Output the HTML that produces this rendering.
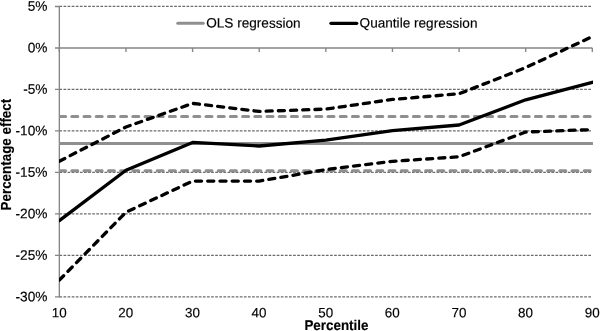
<!DOCTYPE html>
<html><head><meta charset="utf-8">
<style>
html,body{margin:0;padding:0;background:#fff;}
svg{display:block;filter:blur(0.35px);}
text{font-family:"Liberation Sans",sans-serif;font-size:13.4px;fill:#000;stroke:#000;stroke-width:0.15px;}
.b{font-weight:bold;font-size:14.1px;}
.y text{font-size:13.7px;}
</style></head><body>
<svg width="600" height="331" viewBox="0 0 600 331">
<rect width="600" height="331" fill="#fff"/>
<!-- gridlines -->
<g stroke="#6c6c6c" stroke-width="1.2" stroke-dasharray="2.7 1.4" fill="none">
<path d="M59.4 6.46H592.4"/>
<path d="M59.4 89.44H592.4"/>
<path d="M59.4 130.93H592.4"/>
<path d="M59.4 172.42H592.4"/>
<path d="M59.4 213.91H592.4"/>
<path d="M59.4 255.4H592.4"/>
<path d="M59.4 296.9H592.4"/>
</g>
<!-- axes -->
<g stroke="#858585" stroke-width="1.35" fill="none">
<path d="M59.35 6V297.5"/>
<path d="M55 47.95H592.4"/>
<path d="M55 6.46H59.4M55 89.44H59.4M55 130.93H59.4M55 172.42H59.4M55 213.91H59.4M55 255.4H59.4M55 296.9H59.4"/>
<path d="M59.35 47.95v4M125.97 47.95v4M192.59 47.95v4M259.21 47.95v4M325.83 47.95v4M392.45 47.95v4M459.07 47.95v4M525.69 47.95v4M592.31 47.95v4"/>
</g>
<!-- OLS -->
<clipPath id="c"><rect x="59" y="0" width="534" height="331"/></clipPath>
<g clip-path="url(#c)" stroke="#8f8f8f" stroke-width="3" fill="none" stroke-linecap="round">
<path d="M59 143.5H592"/>
<path d="M59.6 116.5H592" stroke-dasharray="6 6.2"/>
<path d="M59.6 170.7H592" stroke-dasharray="6 6.2"/>
</g>
<!-- Quantile -->
<g clip-path="url(#c)" stroke="#000" stroke-width="3.3" fill="none" stroke-linecap="round" stroke-linejoin="round">
<path d="M59.35 220.6L125.97 170.3L192.59 142.4L259.21 146.0L325.83 140.1L392.45 130.6L459.07 125.0L525.69 99.8L592.31 82.3"/>
<path d="M59.35 161.2L125.97 127.0L192.59 103.4L259.21 111.4L325.83 109.1L392.45 99.4L459.07 93.8L525.69 67.6L592.31 36.6" stroke-dasharray="6.1 6.1"/>
<path d="M59.35 280.1L125.97 212.2L192.59 181.1L259.21 181.1L325.83 169.6L392.45 161.3L459.07 156.8L525.69 132.0L592.31 129.6" stroke-dasharray="6.1 6.15"/>
</g>
<!-- legend -->
<path d="M177.8 23.3H203.2" stroke="#8f8f8f" stroke-width="3" stroke-linecap="round"/>
<text x="206.2" y="27.6" transform="rotate(0.03 206.2 27.6)" style="font-size:13.6px">OLS regression</text>
<path d="M331 23.3H356.7" stroke="#000" stroke-width="3.3" stroke-linecap="round"/>
<text x="359.6" y="27.6" transform="rotate(0.03 359.6 27.6)" style="font-size:13.6px">Quantile regression</text>
<!-- y labels -->
<g class="y" text-anchor="end">
<text x="47.5" y="10.86" transform="rotate(0.03 47.5 10.86)">5%</text>
<text x="47.5" y="52.35" transform="rotate(0.03 47.5 52.35)">0%</text>
<text x="47.5" y="93.84" transform="rotate(0.03 47.5 93.84)">-5%</text>
<text x="47.5" y="135.33" transform="rotate(0.03 47.5 135.33)">-10%</text>
<text x="47.5" y="176.82" transform="rotate(0.03 47.5 176.82)">-15%</text>
<text x="47.5" y="218.31" transform="rotate(0.03 47.5 218.31)">-20%</text>
<text x="47.5" y="259.80" transform="rotate(0.03 47.5 259.80)">-25%</text>
<text x="47.5" y="301.30" transform="rotate(0.03 47.5 301.30)">-30%</text>
</g>
<g text-anchor="middle">
<text x="59.20" y="317.3" transform="rotate(0.03 59.20 317.3)">10</text>
<text x="125.82" y="317.3" transform="rotate(0.03 125.82 317.3)">20</text>
<text x="192.44" y="317.3" transform="rotate(0.03 192.44 317.3)">30</text>
<text x="259.06" y="317.3" transform="rotate(0.03 259.06 317.3)">40</text>
<text x="325.68" y="317.3" transform="rotate(0.03 325.68 317.3)">50</text>
<text x="392.30" y="317.3" transform="rotate(0.03 392.30 317.3)">60</text>
<text x="458.92" y="317.3" transform="rotate(0.03 458.92 317.3)">70</text>
<text x="525.54" y="317.3" transform="rotate(0.03 525.54 317.3)">80</text>
<text x="592.16" y="317.3" transform="rotate(0.03 592.16 317.3)">90</text>
</g>
<text class="b" transform="translate(336.4 329.9) rotate(0.03) scale(0.95 1)" text-anchor="middle">Percentile</text>
<text class="b" transform="translate(10.8 154.6) rotate(-90) scale(0.95 1)" text-anchor="middle">Percentage effect</text>
</svg>
</body></html>
